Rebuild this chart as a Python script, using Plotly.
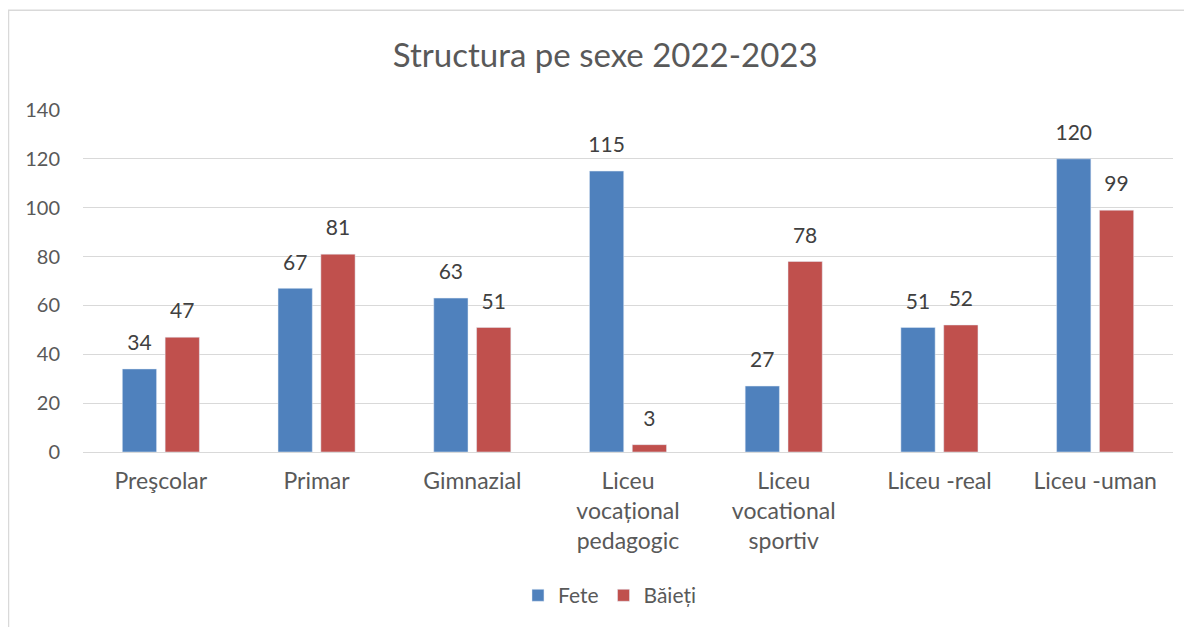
import plotly.graph_objects as go

categories = ["Preşcolar", "Primar", "Gimnazial", "Liceu<br>vocațional<br>pedagogic",
              "Liceu<br>vocational<br>sportiv", "Liceu -real", "Liceu -uman"]
fete = [34, 67, 63, 115, 27, 51, 120]
baieti = [47, 81, 51, 3, 78, 52, 99]
y_ticks = [0, 20, 40, 60, 80, 100, 120, 140]

FONT = "Lato, Carlito, 'Open Sans', sans-serif"
BLUE = "#4f81bd"
RED = "#c0504d"

fig = go.Figure()
for name, vals, col in [("Fete", fete, BLUE), ("Băieți", baieti, RED)]:
    fig.add_trace(go.Bar(name=name, x=categories, y=vals, marker_color=col,
                         hoverinfo="x+y+name"))
for vals in [fete, baieti]:
    fig.add_trace(go.Scatter(x=categories, y=vals, mode="markers+text",
                             marker=dict(size=20, opacity=0),
                             text=vals, textposition="top center",
                             textfont=dict(size=21, color="#404040", family=FONT),
                             showlegend=False, hoverinfo="skip", cliponaxis=False))

fig.update_layout(
    width=1192, height=627,
    paper_bgcolor="white", plot_bgcolor="white",
    font=dict(family=FONT, color="#595959", size=20),
    title=dict(text="Structura pe sexe 2022-2023", x=0.501, xanchor="center",
               y=0.925, yanchor="middle",
               font=dict(size=33, color="#595959", family=FONT)),
    margin=dict(l=75, r=27, t=102, b=183),
    barmode="group", bargap=0.45, bargroupgap=0.2,
    scattermode="group", scattergap=0.45,
    legend=dict(orientation="h", x=0.483, xanchor="center", y=-0.36, yanchor="top",
                font=dict(size=21, color="#595959"), itemwidth=30),
    xaxis=dict(showgrid=False, showline=False, ticks="", tickfont=dict(size=23),
               ticklabelstandoff=13),
    yaxis=dict(range=[0, 140], tickvals=y_ticks, showgrid=True, gridcolor="#d9d9d9",
               gridwidth=1, zeroline=True, zerolinecolor="#d9d9d9", zerolinewidth=1,
               showline=False, ticks="", tickfont=dict(size=20), ticklabelstandoff=22),
    shapes=[dict(type="rect", xref="paper", yref="paper",
                 x0=-74.5 / 1090, x1=1.05, y0=-0.7, y1=1.292,
                 line=dict(color="#d9d9d9", width=1.5), fillcolor="rgba(0,0,0,0)",
                 layer="below")],
)

fig.write_html("out.html")
